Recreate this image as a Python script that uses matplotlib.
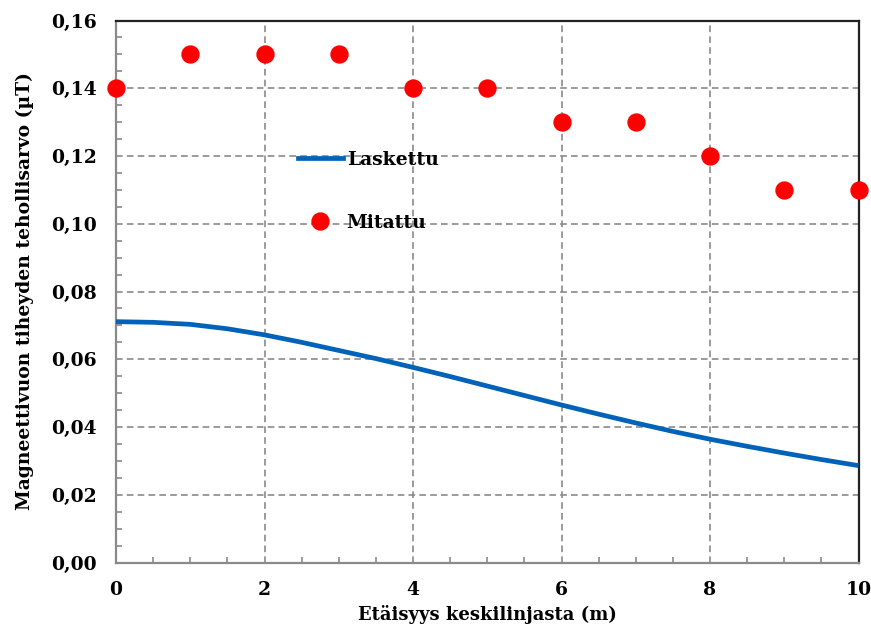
import matplotlib
matplotlib.use("Agg")
import matplotlib.pyplot as plt
from matplotlib.ticker import MultipleLocator, FuncFormatter
from matplotlib.lines import Line2D

# Measured values (µT) at each metre from the centre line
x_measured = [0, 1, 2, 3, 4, 5, 6, 7, 8, 9, 10]
b_measured = [0.14, 0.15, 0.15, 0.15, 0.14, 0.14, 0.13, 0.13, 0.12, 0.11, 0.11]

# Calculated values (µT) every half metre
x_calc = [0, 0.5, 1, 1.5, 2, 2.5, 3, 3.5, 4, 4.5, 5,
          5.5, 6, 6.5, 7, 7.5, 8, 8.5, 9, 9.5, 10]
b_calc = [0.0711, 0.0709, 0.0703, 0.0690, 0.0672, 0.0650, 0.0626, 0.0602,
          0.0576, 0.0549, 0.0521, 0.0493, 0.0465, 0.0438, 0.0412, 0.0387,
          0.0364, 0.0343, 0.0323, 0.0304, 0.0286]

label_calc = "Laskettu"
label_meas = "Mitattu"
x_title = "Etäisyys keskilinjasta (m)"
y_title = "Magneettivuon tiheyden tehollisarvo (µT)"

plt.rcParams["font.family"] = ["DejaVu Serif"]
plt.rcParams["font.weight"] = "bold"
FS = 13.5

fig = plt.figure(figsize=(8.71, 6.34), dpi=100)
ax = fig.add_axes([116 / 871, 1 - 562.5 / 634, 742.5 / 871, 542 / 634])

line_color = "#0062B8"
ax.plot(x_calc, b_calc, color=line_color, lw=3.4, solid_capstyle="butt",
        solid_joinstyle="round", zorder=3)
ax.plot(x_measured, b_measured, "o", color="#FF0000", ms=12.2, mec="#FF0000",
        clip_on=False, zorder=4)

ax.set_xlim(0, 10)
ax.set_ylim(0, 0.16)
ax.xaxis.set_major_locator(MultipleLocator(2))
ax.xaxis.set_minor_locator(MultipleLocator(0.5))
ax.yaxis.set_major_locator(MultipleLocator(0.02))
ax.yaxis.set_minor_locator(MultipleLocator(0.005))
ax.yaxis.set_major_formatter(FuncFormatter(lambda v, p: f"{v:.2f}".replace(".", ",")))
ax.xaxis.set_major_formatter(FuncFormatter(lambda v, p: f"{v:.0f}"))

ax.grid(True, which="major", color="#8a8a8a", lw=1.2, ls=(0, (4, 2.5)), zorder=1)
ax.set_axisbelow(True)

ax.tick_params(which="major", length=0, labelsize=FS, pad=14)
ax.tick_params(axis="x", which="major", pad=13)
ax.tick_params(which="minor", direction="in", length=4.5, width=1.2, color="#8a8a8a")
ax.tick_params(axis="x", which="minor", top=False)
ax.tick_params(axis="y", which="minor", right=False)

for s in ("left", "bottom"):
    ax.spines[s].set_color("#8a8a8a")
    ax.spines[s].set_linewidth(1.6)
for s in ("top", "right"):
    ax.spines[s].set_color("#222222")
    ax.spines[s].set_linewidth(1.6)

ax.set_xlabel(x_title, fontsize=13, fontweight="bold", labelpad=5)
ax.set_ylabel(y_title, fontsize=FS, fontweight="bold", labelpad=12)

handles = [
    Line2D([], [], color=line_color, lw=3.4),
    Line2D([], [], ls="none", marker="o", color="#FF0000", ms=12.2),
]
ax.legend(handles, [label_calc, label_meas], loc="upper left",
          bbox_to_anchor=(0.245, 0.7596), frameon=False, fontsize=FS,
          handlelength=2.4, handletextpad=0.2, labelspacing=2.41,
          borderpad=0, borderaxespad=0)

fig.savefig("out.png", dpi=100)
